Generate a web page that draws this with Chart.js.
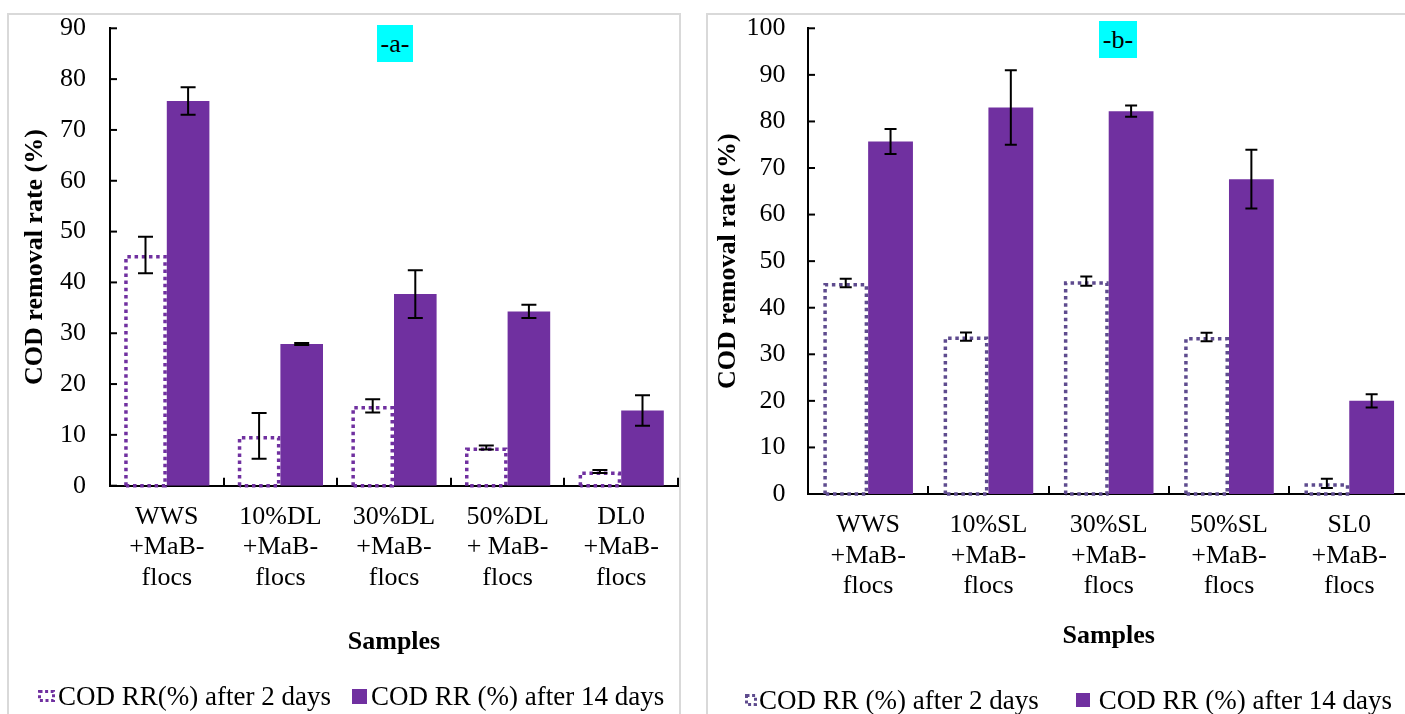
<!DOCTYPE html>
<html>
<head>
<meta charset="utf-8">
<script src="https://cdn.jsdelivr.net/npm/chart.js@4.4.1/dist/chart.umd.min.js"></script>
<style>
  html, body { margin: 0; padding: 0; background: #fff; overflow: hidden; width: 1405px; height: 714px; }
  .panel { position: absolute; border: 2px solid #d9d9d9; box-sizing: border-box; }
  canvas { position: absolute; }
  .tag { position: absolute; background: #00ffff; font: 26px "Liberation Serif", serif; text-align: center; color: #000; }
  .legend { position: absolute; display: flex; align-items: center; height: 32px; font: 27px "Liberation Serif", serif; color: #000; white-space: nowrap; }
  .legend .sq { display: inline-block; background: #7030a0; }
</style>
</head>
<body>
<div class="panel" style="left:7px;top:13px;width:674px;height:720px;"></div>
<div class="panel" style="left:706px;top:13px;width:720px;height:720px;"></div>
<canvas id="chartA" width="674" height="701" style="left:7px;top:13px;"></canvas>
<canvas id="chartB" width="716" height="701" style="left:707px;top:13px;"></canvas>
<div class="tag" style="left:377px;top:25px;width:36px;height:37px;line-height:37px;">-a-</div>
<div class="tag" style="left:1099px;top:21px;width:38px;height:37px;line-height:37px;">-b-</div>
<div class="legend" id="legA" style="left:38px;top:680px;"></div>
<div class="legend" id="legB" style="left:745px;top:684px;"></div>
<script>
// ---- data ----
var categoriesA = [["WWS", "+MaB-", "flocs"], ["10%DL", "+MaB-", "flocs"], ["30%DL", "+MaB-", "flocs"], ["50%DL", "+ MaB-", "flocs"], ["DL0", "+MaB-", "flocs"]];
var categoriesB = [["WWS", "+MaB-", "flocs"], ["10%SL", "+MaB-", "flocs"], ["30%SL", "+MaB-", "flocs"], ["50%SL", "+MaB-", "flocs"], ["SL0", "+MaB-", "flocs"]];

var day2A = [45.4, 9.8, 15.7, 7.5, 2.8];
var day2ErrA = [3.6, 4.5, 1.3, 0.4, 0.3];
var day14A = [75.7, 27.9, 37.7, 34.3, 14.8];
var day14ErrA = [2.7, 0.2, 4.7, 1.3, 3.0];

var day2B = [45.3, 33.8, 45.7, 33.7, 2.3];
var day2ErrB = [0.9, 0.9, 1.0, 0.9, 1.0];
var day14B = [75.7, 83.0, 82.2, 67.6, 20.0];
var day14ErrB = [2.7, 8.0, 1.2, 6.3, 1.4];

var seriesA = ["COD RR(%) after 2 days", "COD RR (%) after 14 days"];
var seriesB = ["COD RR (%) after 2 days", "COD RR (%) after 14 days"];

var PURPLE = "#7030a0";
var SERIF = "'Liberation Serif', 'Times New Roman', serif";

// dotted outline bars, error bars and inward tick marks
var extras = {
  id: "extras",
  afterDatasetsDraw: function (chart, args, opts) {
    var ctx = chart.ctx, xs = chart.scales.x, ys = chart.scales.y;
    ctx.save();
    // hollow dotted bars of the first series
    var lw = 3.5;
    ctx.strokeStyle = opts.dotColor;
    ctx.lineWidth = lw;
    ctx.setLineDash([3.5, 3.7]);
    chart.getDatasetMeta(0).data.forEach(function (bar) {
      var p = bar.getProps(["x", "y", "base", "width"], true);
      var l = p.x - p.width / 2 + lw / 2, r = p.x + p.width / 2 - lw / 2;
      ctx.beginPath();
      ctx.moveTo(l, p.base);
      ctx.lineTo(l, p.y + lw / 2);
      ctx.lineTo(r, p.y + lw / 2);
      ctx.lineTo(r, p.base);
      ctx.lineTo(l, p.base);
      ctx.stroke();
    });
    ctx.setLineDash([]);

    // error bars
    ctx.strokeStyle = "#000";
    ctx.lineWidth = 2;
    opts.errors.forEach(function (errs, di) {
      var vals = chart.data.datasets[di].data;
      chart.getDatasetMeta(di).data.forEach(function (bar, i) {
        var cx = bar.x;
        var t = ys.getPixelForValue(vals[i] + errs[i]);
        var b = ys.getPixelForValue(vals[i] - errs[i]);
        var h = opts.cap / 2;
        ctx.beginPath();
        ctx.moveTo(cx, t); ctx.lineTo(cx, b);
        ctx.moveTo(cx - h, t); ctx.lineTo(cx + h, t);
        ctx.moveTo(cx - h, b); ctx.lineTo(cx + h, b);
        ctx.stroke();
      });
    });

    // tick marks pointing into the plot
    ctx.lineWidth = 2;
    ys.ticks.forEach(function (t) {
      var py = ys.getPixelForValue(t.value);
      ctx.beginPath();
      ctx.moveTo(xs.left, py); ctx.lineTo(xs.left + 7, py);
      ctx.stroke();
    });
    var n = chart.data.labels.length, step = (xs.right - xs.left) / n;
    for (var i = 1; i <= n; i++) {
      var px = Math.round(xs.left + i * step);
      ctx.beginPath();
      ctx.moveTo(px, ys.bottom); ctx.lineTo(px, ys.bottom - 8);
      ctx.stroke();
    }
    ctx.restore();
  }
};

function makeChart(id, cats, d2, d14, e2, e14, o) {
  return new Chart(document.getElementById(id), {
    type: "bar",
    data: {
      labels: cats,
      datasets: [
        { label: o.names[0], data: d2, backgroundColor: "rgba(255,255,255,0)", borderWidth: 0 },
        { label: o.names[1], data: d14, backgroundColor: PURPLE, borderWidth: 0 }
      ]
    },
    plugins: [extras],
    options: {
      responsive: false,
      animation: false,
      categoryPercentage: o.catPct,
      barPercentage: 1,
      layout: { padding: { top: o.top, right: o.right, bottom: o.bottom, left: 0 } },
      plugins: {
        legend: { display: false },
        tooltip: { enabled: false },
        extras: { dotColor: o.dotColor, errors: [e2, e14], cap: o.cap }
      },
      scales: {
        x: {
          grid: { display: false, drawTicks: true, tickLength: 13 },
          border: { display: true, color: "#000", width: 2 },
          ticks: { color: "#000", padding: 2.6, maxRotation: 0, autoSkip: false,
                   font: { family: SERIF, size: 26, lineHeight: 1.185 } },
          title: { display: true, text: "Samples", color: "#000", padding: { top: 0, bottom: 0 },
                   font: { family: SERIF, size: 26, weight: "bold", lineHeight: 1.2 } },
          afterFit: function (s) { s.height = o.xHeight; }
        },
        y: {
          min: 0, max: o.max,
          grid: { display: false, drawTicks: true, tickLength: o.tickLen },
          border: { display: true, color: "#000", width: 2 },
          ticks: { stepSize: 10, color: "#000", padding: 2,
                   font: { family: SERIF, size: 26, lineHeight: 1 } },
          title: { display: true, text: "COD removal rate (%)", color: "#000",
                   padding: { top: o.titlePad, bottom: 0 },
                   font: { family: SERIF, size: 26, weight: "bold", lineHeight: 1.2 } },
          afterFit: function (s) { s.width = o.yWidth; }
        }
      }
    }
  });
}

makeChart("chartA", categoriesA, day2A, day14A, day2ErrA, day14ErrA, {
  names: seriesA, catPct: 0.75, max: 90, top: 15.3, right: 3, bottom: 56.4,
  xHeight: 171.9, yWidth: 103, tickLen: 22, titlePad: 12.2, dotColor: PURPLE, cap: 15
});
makeChart("chartB", categoriesB, day2B, day14B, day2ErrB, day14ErrB, {
  names: seriesB, catPct: 0.745, max: 100, top: 15.3, right: 13.6, bottom: 61.7,
  xHeight: 158.3, yWidth: 101, tickLen: 20.5, titlePad: 5.5, dotColor: "#5e4b8e", cap: 12
});

// legends
function dotted(w, h, color) {
  return '<svg width="' + w + '" height="' + h + '" style="display:block"><rect x="1.5" y="1.5" width="' + (w - 3) +
    '" height="' + (h - 3) + '" fill="none" stroke="' + color + '" stroke-width="3" stroke-dasharray="3 2.6"/></svg>';
}
function buildLegend(id, names, dotColor, dw, dh, gap1, gap2, sqSize, gap3) {
  var el = document.getElementById(id);
  el.innerHTML =
    '<span style="margin-right:' + gap1 + 'px">' + dotted(dw, dh, dotColor) + '</span>' +
    '<span>' + names[0] + '</span>' +
    '<span style="width:' + gap2 + 'px;display:inline-block"></span>' +
    '<span class="sq" style="width:' + sqSize + 'px;height:' + sqSize + 'px;margin-right:' + gap3 + 'px"></span>' +
    '<span>' + names[1] + '</span>';
}
buildLegend("legA", seriesA, PURPLE, 17, 12, 3, 21, 15, 4);
buildLegend("legB", seriesB, "#5e4b8e", 12, 12, 2, 37, 14, 9);
</script>
</body>
</html>
